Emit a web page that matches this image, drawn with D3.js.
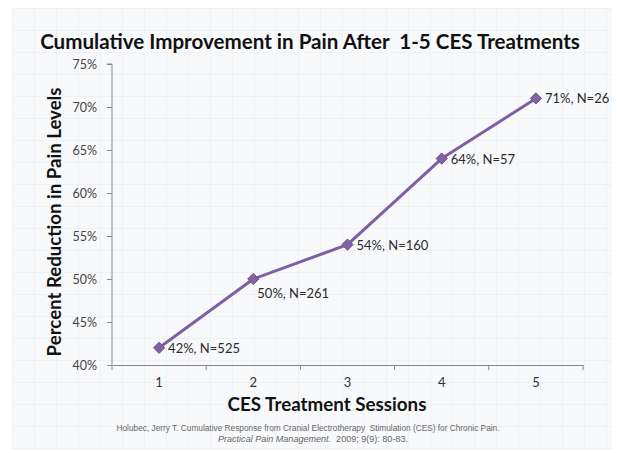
<!DOCTYPE html>
<html>
<head>
<meta charset="utf-8">
<script src="https://cdn.jsdelivr.net/npm/d3@7"></script>
<style>
  body { margin: 0; background: #fff; }
</style>
</head>
<body>
<svg id="chart"></svg>
<script>
const sessions = ["1", "2", "3", "4", "5"];
const improvement = [42, 50, 54, 64, 71];
const sampleSizes = [525, 261, 160, 57, 26];
const yTicks = [40, 45, 50, 55, 60, 65, 70, 75];

const width = 617;
const height = 453;
const margin = {top: 64, right: 34, bottom: 88, left: 112};

const svg = d3.select("#chart")
    .attr("width", width)
    .attr("height", height)
    .style("font-family", "Lato, 'Open Sans', sans-serif");

// paper-like background
svg.append("rect")
    .attr("x", 12).attr("y", 8)
    .attr("width", 600).attr("height", 442)
    .attr("fill", "#f8f9fb");

const grid = svg.append("g").attr("stroke", "#f0f1f5").attr("stroke-width", 1);
d3.range(12, 612, 22).forEach(gx => grid.append("line")
    .attr("x1", gx + 0.5).attr("x2", gx + 0.5).attr("y1", 8).attr("y2", 450));
d3.range(8, 450, 22).forEach(gy => grid.append("line")
    .attr("x1", 12).attr("x2", 612).attr("y1", gy + 0.5).attr("y2", gy + 0.5));

const x = d3.scaleBand()
    .domain(sessions)
    .range([margin.left, width - margin.right]);

const y = d3.scaleLinear()
    .domain([40, 75])
    .range([height - margin.bottom, margin.top]);

// axes
const xAxis = g => g
    .attr("transform", `translate(0,${height - margin.bottom})`)
    .call(d3.axisBottom(x).tickSize(0).tickPadding(13))
    .attr("font-family", null)
    .call(g => g.select(".domain").attr("stroke", "#888"))
    .call(g => g.selectAll(".tick text").attr("font-size", 13).attr("fill", "#333"))
    .call(g => g.selectAll(".band-tick")
        .data(sessions.concat(["end"]))
        .join("line")
        .attr("stroke", "#888")
        .attr("x1", (d, i) => i < sessions.length ? x(d) : x.range()[1])
        .attr("x2", (d, i) => i < sessions.length ? x(d) : x.range()[1])
        .attr("y1", 0).attr("y2", 5));

const yAxis = g => g
    .attr("transform", `translate(${margin.left},0)`)
    .call(d3.axisLeft(y).tickValues(yTicks).tickFormat(d => d + "%").tickSize(5).tickPadding(10))
    .attr("font-family", null)
    .call(g => g.select(".domain").attr("stroke", "#888").attr("d", `M-5,${y(75)}H0V${y(40)}`))
    .call(g => g.selectAll(".tick line").attr("stroke", "#888"))
    .call(g => g.selectAll(".tick text").attr("font-size", 12.5).attr("fill", "#444"));

svg.append("g").call(xAxis);
svg.append("g").call(yAxis);

const data = sessions.map((s, i) => ({s, v: improvement[i], n: sampleSizes[i]}));
const cx = d => x(d.s) + x.bandwidth() / 2;

const line = d3.line()
    .x(cx)
    .y(d => y(d.v));

svg.append("path")
    .datum(data)
    .attr("fill", "none")
    .attr("stroke", "#7d5fa6")
    .attr("stroke-width", 3)
    .attr("stroke-linejoin", "round")
    .attr("d", line);

svg.append("g")
    .selectAll("path")
    .data(data)
    .join("path")
    .attr("transform", d => `translate(${cx(d)},${y(d.v)})`)
    .attr("d", d3.symbol(d3.symbolDiamond2, 80))
    .attr("fill", "#8064a2")
    .attr("stroke", "#6a4f8c")
    .attr("stroke-width", 1);

// data labels
svg.append("g")
    .selectAll("text")
    .data(data)
    .join("text")
    .attr("x", (d, i) => cx(d) + (i === 1 ? 4 : 9))
    .attr("y", (d, i) => y(d.v) + (i === 1 ? 19 : 5))
    .attr("font-size", 13)
    .attr("fill", "#2a2a2a")
    .text(d => `${d.v}%, N=${d.n}`);

// titles: font size fitted so the text spans the same width as in the original
const fit = (sel, target) => {
  const size = +sel.attr("font-size");
  const w = sel.node().getComputedTextLength();
  sel.attr("font-size", size * target / w);
};

const heading = svg.append("g")
    .attr("font-weight", "bold")
    .attr("fill", "#111")
    .attr("text-anchor", "middle");

heading.append("text")
    .attr("x", 310).attr("y", 49)
    .attr("font-size", 18)
    .style("white-space", "pre")
    .text("Cumulative Improvement in Pain After  1-5 CES Treatments")
    .call(fit, 540);

heading.append("text")
    .attr("transform", `translate(61,222) rotate(-90)`)
    .attr("font-size", 15)
    .text("Percent Reduction in Pain Levels")
    .call(fit, 269);

heading.append("text")
    .attr("x", 327).attr("y", 411)
    .attr("font-size", 16)
    .text("CES Treatment Sessions")
    .call(fit, 199);

const cite = svg.append("g")
    .attr("font-size", 8.5)
    .attr("fill", "#666")
    .attr("text-anchor", "middle")
    .style("font-family", "'Liberation Sans', Arial, sans-serif");

cite.append("text")
    .attr("x", 308).attr("y", 431)
    .attr("textLength", 383)
    .attr("lengthAdjust", "spacingAndGlyphs")
    .style("white-space", "pre")
    .text("Holubec, Jerry T. Cumulative Response from Cranial Electrotherapy  Stimulation (CES) for Chronic Pain.");

const cite2 = cite.append("text")
    .attr("x", 313).attr("y", 442)
    .attr("textLength", 190)
    .attr("lengthAdjust", "spacingAndGlyphs");
cite2.append("tspan").attr("font-style", "italic").text("Practical Pain Management.");
cite2.append("tspan").style("white-space", "pre").text("  2009; 9(9): 80-83.");
</script>
</body>
</html>
